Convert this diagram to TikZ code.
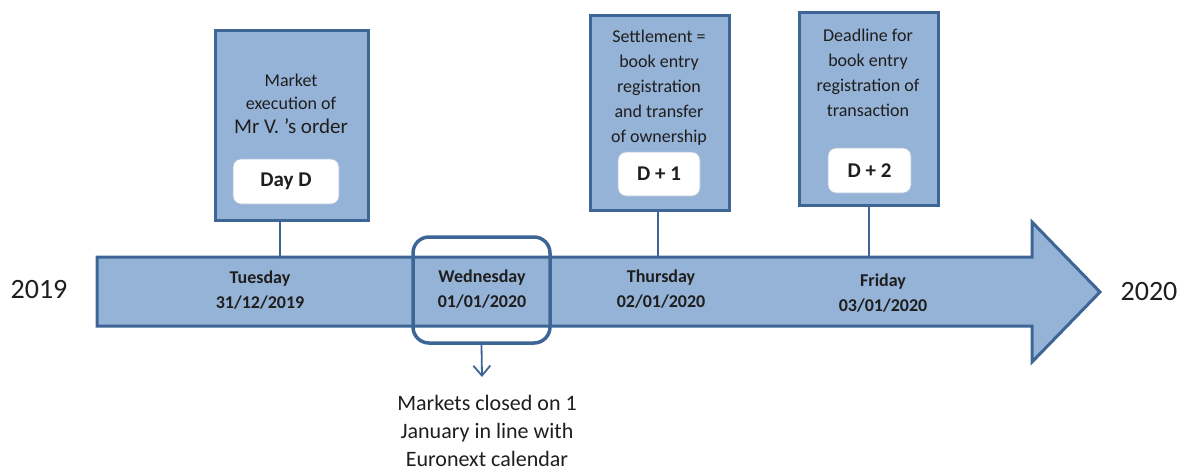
\documentclass[tikz,border=0pt]{standalone}
\usepackage{fontspec}
\setmainfont{Carlito}
\usetikzlibrary{arrows.meta}
\definecolor{fillblue}{HTML}{95B3D7}
\definecolor{edgeblue}{HTML}{3D6596}
\definecolor{txt}{HTML}{1E1E1E}
\begin{document}
\begin{tikzpicture}[x=1pt,y=-1pt,
  bigbox/.style={draw=edgeblue,fill=fillblue,line width=3pt,minimum width=#1,inner sep=0pt},
  daybox/.style={draw=edgeblue!40,fill=white,line width=0.8pt,rounded corners=8pt,inner sep=0pt,
     font=\fontsize{21}{25}\selectfont\bfseries,text=txt},
  boxtext/.style={align=center,text=txt,font=\fontsize{18}{25}\selectfont,inner sep=0pt},
  daylabel/.style={align=center,text=txt,font=\fontsize{18}{25}\selectfont\bfseries,inner sep=0pt},
  conn/.style={draw=edgeblue,line width=2pt},
  yearlabel/.style={text=txt,font=\fontsize{28}{30}\selectfont,inner sep=0pt}]
\useasboundingbox (0,0) rectangle (1180,472);
% main arrow
\draw[draw=edgeblue,fill=fillblue,line width=3pt,line join=miter]
  (97,257) -- (1032,257) -- (1032,222) -- (1100,292) -- (1032,362) -- (1032,326) -- (97,326) -- cycle;
\coordinate (t1) at (280,257);
\coordinate (t2) at (658,257);
\coordinate (t3) at (869,257);
% boxes
\node[bigbox=153pt,minimum height=190pt] (b1) at (291.5,125) {};
\node[bigbox=139pt,minimum height=195pt] (b2) at (659.5,112.5) {};
\node[bigbox=139pt,minimum height=193pt] (b3) at (868.5,108.5) {};
\node[daybox,minimum width=106pt,minimum height=45pt] (d1) at (286,181.5) {Day D};
\node[daybox,minimum width=82pt,minimum height=44pt] (d2) at (659,174) {D + 1};
\node[daybox,minimum width=83pt,minimum height=45pt] (d3) at (869.5,170.5) {D + 2};
\node[boxtext] (x1) at (291,104) {Market\\[-2pt]execution of\\[-1pt]{\fontsize{21}{25}\selectfont Mr V. \textquoteright s order}};
\node[boxtext] (x2) at (659,88) {Settlement =\\book entry\\registration\\and transfer\\of ownership};
\node[boxtext] (x3) at (868,73) {Deadline for\\book entry\\registration of\\transaction};
% connectors
\draw[conn] (t1 |- b1.south) -- (t1);
\draw[conn] (t2 |- b2.south) -- (t2);
\draw[conn] (t3 |- b3.south) -- (t3);
% day labels
\node[daylabel] (l1) at (260,290) {Tuesday\\31/12/2019};
\node[daylabel] (l2) at (482,289) {Wednesday\\01/01/2020};
\node[daylabel] (l3) at (661,289) {Thursday\\02/01/2020};
\node[daylabel] (l4) at (883,293) {Friday\\03/01/2020};
% highlight
\node[draw=edgeblue,line width=3.5pt,rounded corners=16pt,minimum width=137pt,minimum height=106pt,inner sep=0pt] (hl) at (481.5,290) {};
\node[align=center,text=txt,font=\fontsize{22}{28}\selectfont,inner sep=0pt,anchor=north] (note) at (487,395) {Markets closed on 1\\January in line with\\Euronext calendar};
\coordinate (tipend) at (482,377);
\draw[conn,line width=1.8pt,-{Straight Barb[length=10pt,width=17pt,line width=1.8pt]}] (hl.south) -- (tipend);
% years
\node[yearlabel] (y1) at (39,290) {2019};
\node[yearlabel] (y2) at (1149,292) {2020};
\end{tikzpicture}
\end{document}
